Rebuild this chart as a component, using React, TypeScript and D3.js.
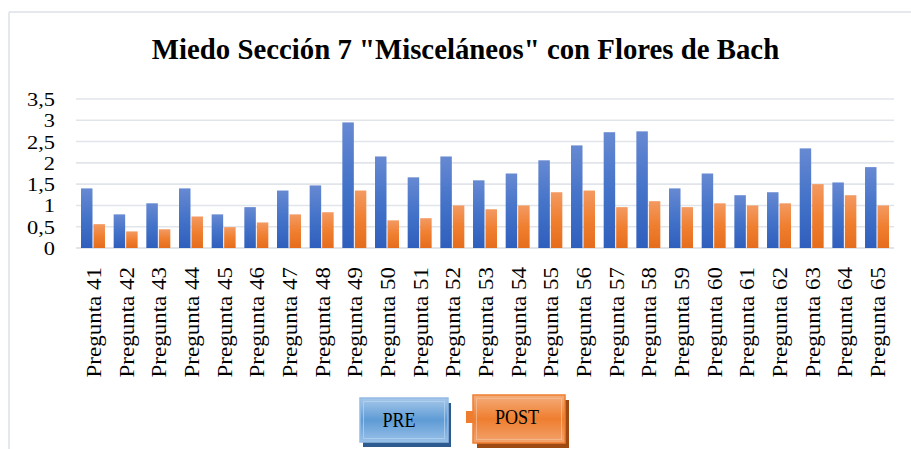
import React from 'react';
import * as d3 from 'd3';

const categories = [
  'Pregunta 41', 'Pregunta 42', 'Pregunta 43', 'Pregunta 44', 'Pregunta 45',
  'Pregunta 46', 'Pregunta 47', 'Pregunta 48', 'Pregunta 49', 'Pregunta 50',
  'Pregunta 51', 'Pregunta 52', 'Pregunta 53', 'Pregunta 54', 'Pregunta 55',
  'Pregunta 56', 'Pregunta 57', 'Pregunta 58', 'Pregunta 59', 'Pregunta 60',
  'Pregunta 61', 'Pregunta 62', 'Pregunta 63', 'Pregunta 64', 'Pregunta 65',
];
const preValues = [
  1.40, 0.79, 1.05, 1.40, 0.79, 0.96, 1.35, 1.47, 2.95, 2.15,
  1.66, 2.15, 1.59, 1.75, 2.06, 2.41, 2.72, 2.74, 1.40, 1.75,
  1.24, 1.31, 2.34, 1.54, 1.90,
];
const postValues = [
  0.56, 0.39, 0.44, 0.74, 0.49, 0.60, 0.79, 0.84, 1.35, 0.65,
  0.70, 1.00, 0.91, 1.00, 1.31, 1.35, 0.96, 1.10, 0.96, 1.05,
  1.00, 1.05, 1.50, 1.24, 1.00,
];
const seriesNames = ['PRE', 'POST'];
const yTicks = [0, 0.5, 1, 1.5, 2, 2.5, 3, 3.5];
const title = 'Miedo Sección 7 "Misceláneos"  con Flores de Bach';

const W = 911;
const H = 449;
const plot = { left: 76, right: 894, top: 99, bottom: 248 };
const serif = '"Liberation Serif", "Times New Roman", serif';

const fmt = (v: number) => String(v).replace('.', ',');

export default function App() {
  const x = d3
    .scaleBand<string>()
    .domain(categories)
    .range([plot.left, plot.right])
    .paddingInner(0.266)
    .paddingOuter(0.153);

  const xSub = d3
    .scaleBand<string>()
    .domain(seriesNames)
    .range([0, x.bandwidth()])
    .paddingInner(0.08);

  const y = d3.scaleLinear().domain([0, 3.5]).range([plot.bottom, plot.top]);

  const rows = categories.map((c, i) => ({ cat: c, PRE: preValues[i], POST: postValues[i] }));

  return (
    <svg
      width={W}
      height={H}
      style={{ position: 'absolute', left: 0, top: 0, background: '#fff', fontFamily: serif }}
    >
      <defs>
        <linearGradient id="gPre" x1="0" y1="0" x2="0" y2="1">
          <stop offset="0" stopColor="#6789d2" />
          <stop offset="0.5" stopColor="#4473c9" />
          <stop offset="1" stopColor="#2f5fbd" />
        </linearGradient>
        <linearGradient id="gPost" x1="0" y1="0" x2="0" y2="1">
          <stop offset="0" stopColor="#f39a62" />
          <stop offset="0.5" stopColor="#f07f30" />
          <stop offset="1" stopColor="#e56d1d" />
        </linearGradient>
        <linearGradient id="lPre" x1="0" y1="0" x2="0" y2="1">
          <stop offset="0" stopColor="#a6c8ea" />
          <stop offset="0.5" stopColor="#5e9bd5" />
          <stop offset="1" stopColor="#98c0e8" />
        </linearGradient>
        <linearGradient id="lPost" x1="0" y1="0" x2="0" y2="1">
          <stop offset="0" stopColor="#f4ad7c" />
          <stop offset="0.5" stopColor="#ef7e2f" />
          <stop offset="1" stopColor="#f2a36e" />
        </linearGradient>
      </defs>

      {/* chart frame */}
      <line x1={9} x2={W} y1={12} y2={12} stroke="#dde2e8" strokeWidth={1.5} />
      <line x1={9} x2={9} y1={12} y2={H} stroke="#dde2e8" strokeWidth={1.5} />

      <text x={465.5} y={59} textAnchor="middle" fontSize={28.8} fontWeight="bold" fill="#000">
        {title}
      </text>

      {/* grid + y labels */}
      {yTicks.map((t) => (
        <g key={t}>
          <line
            x1={plot.left}
            x2={plot.right}
            y1={y(t)}
            y2={y(t)}
            stroke={t === 0 ? '#d7dce3' : '#e1e5ea'}
            strokeWidth={1.6}
          />
          <text
            transform={`translate(55,${y(t) + 7}) scale(1.18,1)`}
            textAnchor="end"
            fontSize={19}
            fill="#000"
          >
            {fmt(t)}
          </text>
        </g>
      ))}

      {/* bars */}
      {rows.map((r) => (
        <g key={r.cat} transform={`translate(${x(r.cat)},0)`}>
          {seriesNames.map((s) => {
            const v = (r as any)[s] as number;
            return (
              <rect
                key={s}
                x={xSub(s)}
                y={y(v)}
                width={xSub.bandwidth()}
                height={y(0) - y(v)}
                fill={s === 'PRE' ? 'url(#gPre)' : 'url(#gPost)'}
              />
            );
          })}
        </g>
      ))}

      {/* x labels */}
      {categories.map((c) => (
        <text
          key={c}
          transform={`translate(${(x(c) as number) + x.bandwidth() / 2 + 8},267) rotate(-90) scale(1.15,1)`}
          textAnchor="end"
          fontSize={20}
          fill="#000"
        >
          {c}
        </text>
      ))}

      {/* legend */}
      <g>
        <rect x={363} y={403} width={88} height={44} fill="#2d5a8f" />
        <rect x={360} y={398} width={88} height={44} fill="url(#lPre)" stroke="#94bce6" strokeWidth={1.5} />
        <rect x={363.5} y={401.5} width={81} height={37} fill="none" stroke="#b9d4ef" strokeWidth={1} opacity={0.7} />
        <text transform="translate(399,427) scale(0.86,1)" textAnchor="middle" fontSize={21} fill="#000">
          {seriesNames[0]}
        </text>

        <rect x={466} y={411} width={8} height={12} fill="#ef7d2f" />
        <rect x={477} y={400} width={92} height={48} fill="#9e4b13" />
        <rect x={473} y={395} width={92} height={48} fill="url(#lPost)" stroke="#ee7d31" strokeWidth={1.5} />
        <rect x={476.5} y={398.5} width={85} height={41} fill="none" stroke="#f7c09a" strokeWidth={1} opacity={0.7} />
        <text transform="translate(517,424) scale(0.86,1)" textAnchor="middle" fontSize={21} fill="#000">
          {seriesNames[1]}
        </text>
      </g>
    </svg>
  );
}
